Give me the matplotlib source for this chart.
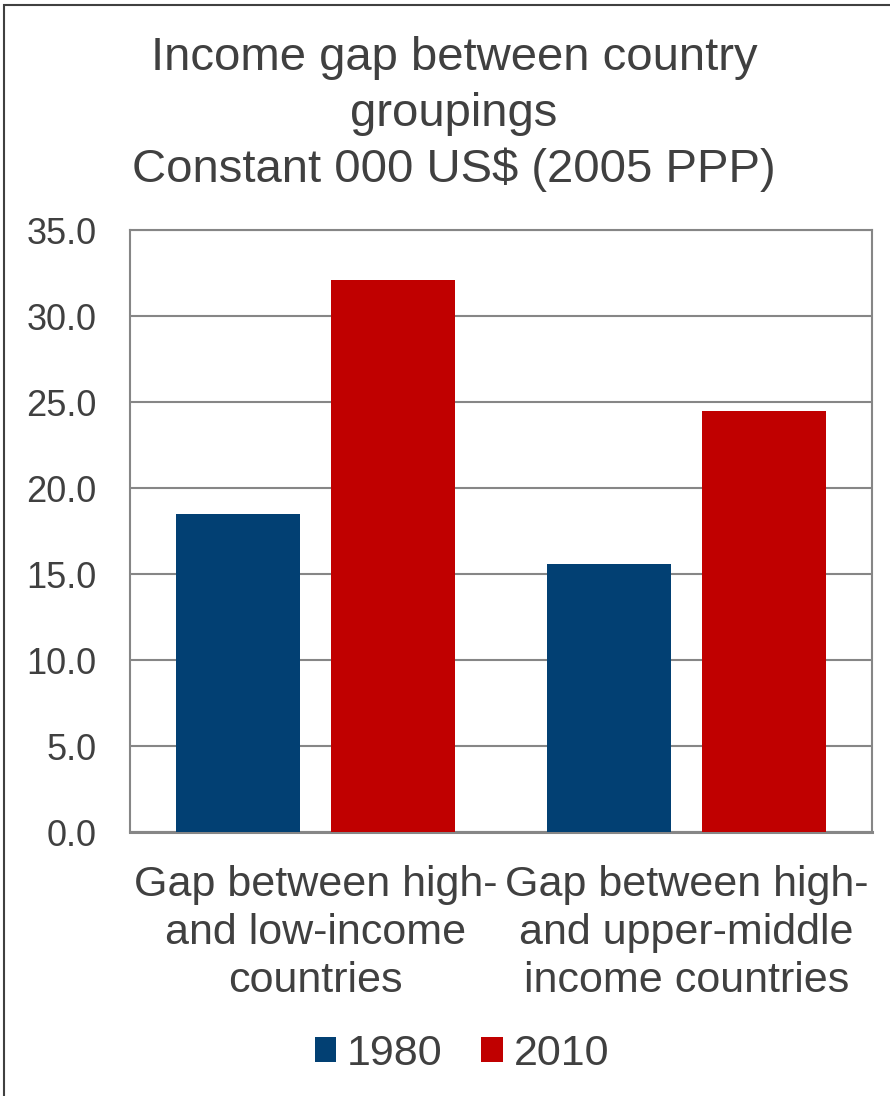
import matplotlib
matplotlib.use("Agg")
import matplotlib.pyplot as plt
import numpy as np
from matplotlib.patches import Rectangle

# data
categories = ["Gap between high-\nand low-income\ncountries",
              "Gap between high-\nand upper-middle\nincome countries"]
years = ["1980", "2010"]
gap_1980 = [18.5, 15.6]
gap_2010 = [32.1, 24.5]
yticks = [0, 5, 10, 15, 20, 25, 30, 35]

col_1980 = "#024073"
col_2010 = "#C00000"
txt = "#404040"
grid = "#868686"

plt.rcParams["font.family"] = ["Liberation Sans", "DejaVu Sans"]

fig = plt.figure(figsize=(8.9, 10.96), dpi=100)
ax = fig.add_axes([130 / 890, 264 / 1096, 742 / 890, 602 / 1096])

x = np.arange(len(categories))
w = 0.334
off = 0.2085
ax.bar(x - off, gap_1980, w, color=col_1980, label=years[0], zorder=3)
ax.bar(x + off, gap_2010, w, color=col_2010, label=years[1], zorder=3)

ax.set_xlim(-0.5, 1.5)
ax.set_ylim(0, 35)
ax.set_yticks(yticks)
ax.set_yticklabels([f"{v:.1f}" for v in yticks], fontsize=26, color=txt)
ax.set_xticks(x)
ax.set_xticklabels(categories, fontsize=31, color=txt, linespacing=1.25)
ax.tick_params(axis="both", length=0)
ax.tick_params(axis="y", pad=24)
ax.tick_params(axis="x", pad=24)
ax.yaxis.grid(True, color=grid, lw=1.5, zorder=0)

for s in ["left", "right", "top"]:
    ax.spines[s].set_color(grid)
    ax.spines[s].set_linewidth(1.5)
ax.spines["bottom"].set_color(grid)
ax.spines["bottom"].set_linewidth(2.2)

fig.text(0.51, 1 - 36 / 1096,
         "Income gap between country\ngroupings\nConstant 000 US$ (2005 PPP)",
         ha="center", va="top", fontsize=34, color=txt, linespacing=1.35)

leg = fig.legend(loc="center", bbox_to_anchor=(0.519, 1 - 1054 / 1096),
                 ncol=2, frameon=False, fontsize=31, handlelength=0.5,
                 handleheight=0.5, handletextpad=0.25, columnspacing=0.9,
                 labelcolor=txt)

# outer chart frame
fig.patches.append(Rectangle((4 / 890, -0.01), 1.1, 1 - 5 / 1096 + 0.01,
                             transform=fig.transFigure, fill=False,
                             edgecolor="#404040", lw=1.5))

fig.savefig("out.png", dpi=100)
